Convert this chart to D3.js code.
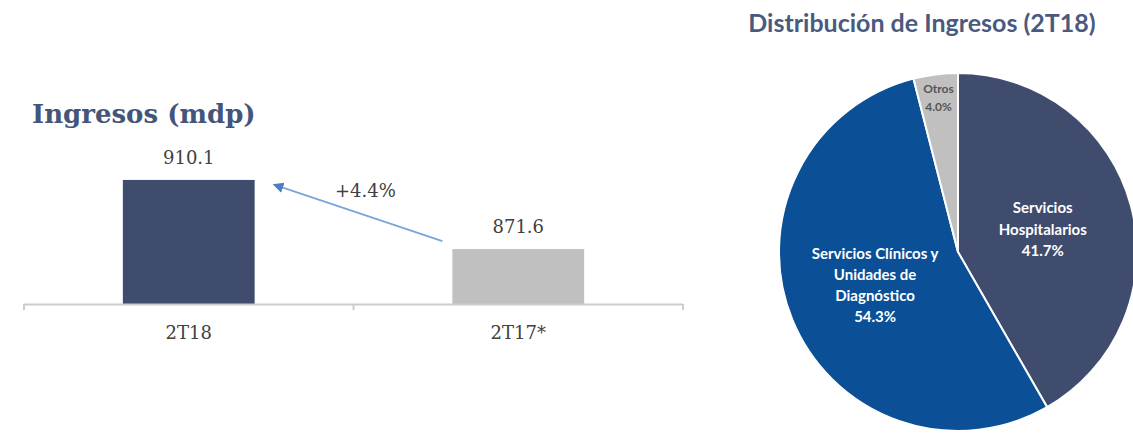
<!DOCTYPE html>
<html>
<head>
<meta charset="utf-8">
<script src="https://cdn.jsdelivr.net/npm/d3@7"></script>
<style>
  body { margin: 0; background: #fff; }
  svg { display: block; }
</style>
</head>
<body>
<div class="chartWrapper"></div>
<script>
// bar chart data
var barCategories = ["2T18", "2T17*"];
var barValues = [910.1, 871.6];
var barColors = ["#3f4c6e", "#c0c0c0"];
var growthLabel = "+4.4%";

// pie data
var pieLabels = [
    ["Servicios", "Hospitalarios"],
    ["Servicios Clínicos y", "Unidades de", "Diagnóstico"],
    ["Otros"]
];
var pieValues = [41.7, 54.3, 4.0];
var pieColors = ["#3f4c6e", "#0b4f96", "#c0c0c0"];

var width = 1133,
    height = 434;

var svg = d3.select(".chartWrapper")
    .append("svg")
    .attr("width", width)
    .attr("height", height);

// ---- bar chart ----
var xScale = d3.scaleBand()
    .domain(barCategories)
    .range([24, 683])
    .paddingInner(0.6)
    .paddingOuter(0.3);

// axis does not start at zero in the original
var yScale = d3.scaleLinear()
    .domain([841, 951])
    .range([304, 106.5]);

svg.append("text")
    .attr("x", 32)
    .attr("y", 123)
    .attr("fill", "#44557a")
    .style("font-family", "DejaVu Serif")
    .style("font-weight", "bold")
    .style("font-size", "26px")
    .text("Ingresos (mdp)");

svg.selectAll(".bar")
    .data(barValues)
    .enter()
    .append("rect")
    .attr("class", "bar")
    .attr("x", function (d, i) { return xScale(barCategories[i]); })
    .attr("y", function (d) { return yScale(d); })
    .attr("width", xScale.bandwidth())
    .attr("height", function (d) { return yScale.range()[0] - yScale(d); })
    .attr("fill", function (d, i) { return barColors[i]; });

svg.selectAll(".barLabel")
    .data(barValues)
    .enter()
    .append("text")
    .attr("class", "barLabel")
    .attr("x", function (d, i) { return xScale(barCategories[i]) + xScale.bandwidth() / 2; })
    .attr("y", function (d) { return yScale(d) - 16; })
    .attr("text-anchor", "middle")
    .attr("fill", "#404040")
    .style("font-family", "DejaVu Serif")
    .style("font-size", "18px")
    .text(function (d) { return d3.format(".1f")(d); });

var xAxis = d3.axisBottom(xScale)
    .tickSize(0)
    .tickPadding(22);

var gx = svg.append("g")
    .attr("transform", "translate(0," + yScale.range()[0] + ")")
    .call(xAxis);
gx.select(".domain").remove();
gx.selectAll("text")
    .attr("fill", "#404040")
    .style("font-family", "DejaVu Serif")
    .style("font-size", "18px");

// baseline with separators between categories
var r = xScale.range(),
    step = xScale.step(),
    sepX = [r[0], r[0] + step, r[1]];
svg.append("line")
    .attr("x1", r[0]).attr("x2", r[1])
    .attr("y1", yScale.range()[0] + 0.5).attr("y2", yScale.range()[0] + 0.5)
    .attr("stroke", "#cccccc")
    .attr("stroke-width", 2);
svg.selectAll(".sep")
    .data(sepX)
    .enter()
    .append("line")
    .attr("x1", function (d) { return d; })
    .attr("x2", function (d) { return d; })
    .attr("y1", yScale.range()[0])
    .attr("y2", yScale.range()[0] + 6)
    .attr("stroke", "#cccccc")
    .attr("stroke-width", 2);

// growth arrow from 2T17* to 2T18
svg.append("defs")
    .append("marker")
    .attr("id", "arrowHead")
    .attr("viewBox", "0 0 10 10")
    .attr("refX", 8)
    .attr("refY", 5)
    .attr("markerWidth", 6)
    .attr("markerHeight", 6)
    .attr("orient", "auto")
    .append("path")
    .attr("d", "M0,0 L10,5 L0,10 z")
    .attr("fill", "#4a7fc4");

var x0 = xScale(barCategories[1]) - 10,
    y0 = yScale(barValues[1]) - 8,
    x1 = xScale(barCategories[0]) + xScale.bandwidth() + 20,
    y1 = yScale(barValues[0]) + 5;
svg.append("line")
    .attr("x1", x0).attr("y1", y0)
    .attr("x2", x1).attr("y2", y1)
    .attr("stroke", "#7aa5dc")
    .attr("stroke-width", 1.8)
    .attr("marker-end", "url(#arrowHead)");

svg.append("text")
    .attr("x", 335)
    .attr("y", 197)
    .attr("fill", "#404040")
    .style("font-family", "DejaVu Serif")
    .style("font-size", "18px")
    .text(growthLabel);

// ---- pie chart ----
var cx = 958, cy = 252, radius = 179;

svg.append("text")
    .attr("x", 922)
    .attr("y", 32)
    .attr("text-anchor", "middle")
    .attr("fill", "#4a5a7e")
    .style("font-family", "Lato")
    .style("font-weight", "bold")
    .style("font-size", "25px")
    .text("Distribución de Ingresos (2T18)");

var pie = d3.pie().sort(null).value(function (d) { return d; });
var arc = d3.arc().innerRadius(0).outerRadius(radius);
var arcs = pie(pieValues);

var gPie = svg.append("g")
    .attr("transform", "translate(" + cx + "," + cy + ")");

gPie.selectAll("path")
    .data(arcs)
    .enter()
    .append("path")
    .attr("d", arc)
    .attr("fill", function (d, i) { return pieColors[i]; })
    .attr("stroke", "#fff")
    .attr("stroke-width", 2);

// label anchor positions (centroid radius per slice)
var labelArc = [
    d3.arc().innerRadius(0).outerRadius(radius * 0.98),
    d3.arc().innerRadius(0).outerRadius(radius * 1.0),
    d3.arc().innerRadius(radius * 0.87).outerRadius(radius * 0.87)
];
var lineHeight = [21.5, 21, 18];
var fontSize = [15, 15, 12];

arcs.forEach(function (a, i) {
    var lines = pieLabels[i].concat([d3.format(".1f")(a.data) + "%"]);
    var c = labelArc[i].centroid(a);
    var t = gPie.append("text")
        .attr("text-anchor", "middle")
        .attr("fill", i === 2 ? "#555555" : "#fff")
        .style("font-family", "Lato")
        .style("font-weight", "bold")
        .style("font-size", fontSize[i] + "px");
    var top = c[1] - (lines.length - 1) * lineHeight[i] / 2;
    lines.forEach(function (ln, k) {
        t.append("tspan")
            .attr("x", c[0])
            .attr("y", top + k * lineHeight[i])
            .attr("dy", "0.35em")
            .text(ln);
    });
});
</script>
</body>
</html>
